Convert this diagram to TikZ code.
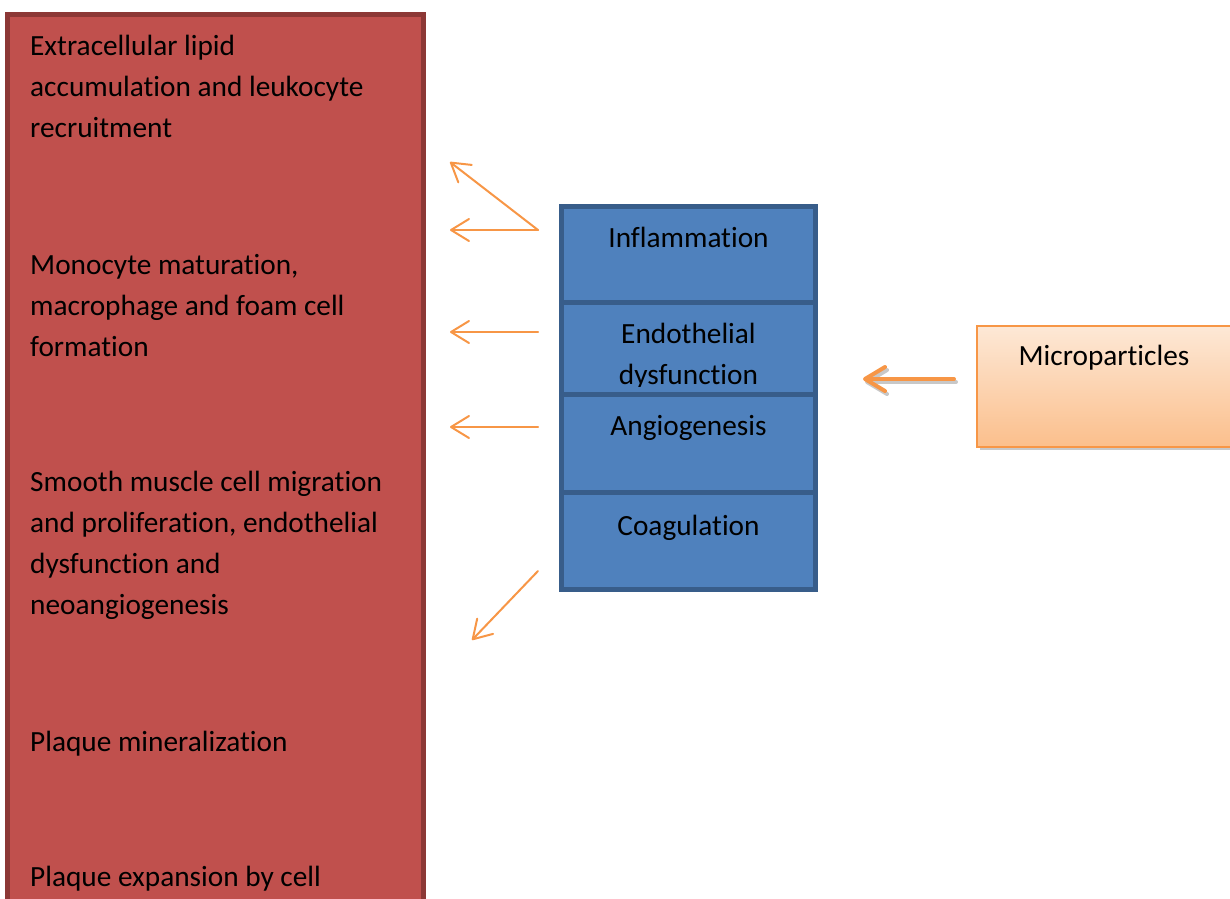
\documentclass[tikz,border=0pt]{standalone}
\usepackage{fontspec}
\setmainfont{Carlito}[Ligatures=NoCommon, Contextuals=NoAlternate]
\usetikzlibrary{arrows.meta}
\definecolor{redfill}{HTML}{C0504D}
\definecolor{redline}{HTML}{8C3836}
\definecolor{bluefill}{HTML}{4F81BD}
\definecolor{blueline}{HTML}{385D8A}
\definecolor{orangeline}{HTML}{F79646}
\definecolor{peachtop}{HTML}{FDE8D6}
\definecolor{peachbot}{HTML}{FBBF8C}
\definecolor{shadowgray}{HTML}{C8C8C8}
\tikzset{
  stagebox/.style={draw=redline, fill=redfill, line width=5pt, inner sep=0pt, outer sep=0pt, anchor=north west},
  procbox/.style={draw=blueline, fill=bluefill, line width=5pt, inner sep=0pt, outer sep=0pt, anchor=north west, minimum width=254pt},
  lbl/.style={font=\fontsize{29.3}{41}\selectfont, align=left, inner sep=0pt, anchor=base west, text=black},
  plbl/.style={font=\fontsize{29.3}{41}\selectfont, align=center, inner sep=0pt, anchor=base, text=black},
  thinarr/.style={draw=orangeline, line width=2pt, line cap=round, -{Straight Barb[length=18pt,width=22pt,line cap=round,line join=round]}},
  thickarr/.style={line width=4pt, line cap=round, -{Straight Barb[length=20pt,width=24pt,line cap=round,line join=round]}}
}
\begin{document}
\begin{tikzpicture}[x=1pt,y=-1pt]
\useasboundingbox (0,0) rectangle (1230,898);
\clip (0,0) rectangle (1230,898);
% stages of plaque (red column)
\node[stagebox, minimum width=416pt, minimum height=900pt] (plaque) at (7.5,14.5) {};
% (base anchor = baseline of the last line)
\node[lbl] (st1) at (30,137) {Extracellular lipid\\accumulation and leukocyte\\recruitment};
\node[lbl] (st2) at (30,356) {Monocyte maturation,\\macrophage and foam cell\\formation};
\node[lbl] (st3) at (30,614) {Smooth muscle cell migration\\and proliferation, endothelial\\dysfunction and\\neoangiogenesis};
\node[lbl] (st4) at (30,751) {Plaque mineralization};
\node[lbl] (st5) at (30,886) {Plaque expansion by cell};
% processes (blue column)
\node[procbox, minimum height=96.5pt] (infl) at (561.5,206) {};
\node[plbl] (inflT) at (688.5,247) {Inflammation};
\node[procbox, minimum height=92pt] (endo) at (561.5,302.5) {};
\begin{scope}
  \clip (561.5,300) rectangle (815.5,386);
  \node[plbl] (endoT) at (688.5,384) {Endothelial\\dysfunction};
\end{scope}
\node[procbox, minimum height=97.5pt] (angio) at (561.5,394.5) {};
\node[plbl] (angioT) at (688.5,435) {Angiogenesis};
\node[procbox, minimum height=97.5pt] (coag) at (561.5,492) {};
\node[plbl] (coagT) at (688.5,535) {Coagulation};
% microparticles
\fill[shadowgray] (980,329) rectangle (1240,450);
\node[draw=orangeline, line width=1.5pt, top color=peachtop, bottom color=peachbot, minimum width=260pt, minimum height=121pt, anchor=north west, inner sep=0pt, outer sep=0pt] (micro) at (977,326) {};
\node[plbl] (microT) at (1104,365) {Microparticles};
% arrow coordinates
\coordinate (a0) at (538,230);
\coordinate (t1) at (450,162);
\coordinate (t2) at (450,230);
\coordinate (a3) at (538,332);
\coordinate (t3) at (450,332);
\coordinate (a4) at (538,427);
\coordinate (t4) at (450,427);
\coordinate (a5) at (538,571);
\coordinate (t5) at (472,640);
\coordinate (mS) at (954,379);
\coordinate (mT) at (863,379);
\draw[thinarr] (a0) -- (t1);
\draw[thinarr] (a0) -- (t2);
\draw[thinarr] (a3) -- (t3);
\draw[thinarr] (a4) -- (t4);
\draw[thinarr] (a5) -- (t5);
\draw[thickarr, draw=shadowgray, transform canvas={shift={(2pt,-3pt)}}] (mS) -- (mT);
\draw[thickarr, draw=orangeline] (mS) -- (mT);
\end{tikzpicture}
\end{document}
